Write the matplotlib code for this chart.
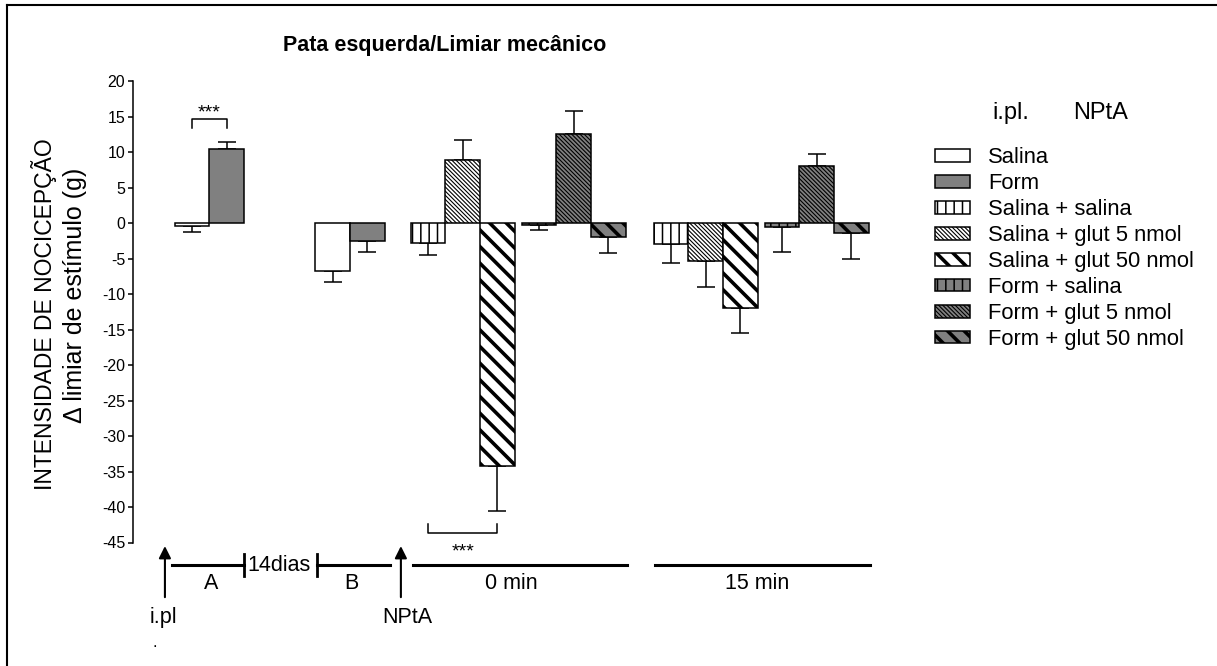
import matplotlib.pyplot as plt
from matplotlib.patches import Rectangle
from matplotlib.lines import Line2D

plt.rcParams['font.family'] = ['Liberation Sans', 'DejaVu Sans']
plt.rcParams['axes.unicode_minus'] = False

# i.pl. only: day of injection (A) and 14 days later (B)
pre_stages = ['A', 'B']
salina_pre = [-0.4, -6.8]
salina_pre_err = [0.9, 1.5]
form_pre = [10.4, -2.6]
form_pre_err = [1.0, 1.5]

# after NPtA injection
times = ['0 min', '15 min']
sal_sal = [-2.8, -3.0]
sal_sal_err = [1.7, 2.6]
sal_g5 = [8.9, -5.4]
sal_g5_err = [2.8, 3.6]
sal_g50 = [-34.2, -12.0]
sal_g50_err = [6.3, 3.5]
form_sal = [-0.3, -0.5]
form_sal_err = [0.7, 3.6]
form_g5 = [12.5, 8.0]
form_g5_err = [3.3, 1.7]
form_g50 = [-2.0, -1.4]
form_g50_err = [2.2, 3.7]

labels = ['Salina', 'Form', 'Salina + salina', 'Salina + glut 5 nmol',
          'Salina + glut 50 nmol', 'Form + salina', 'Form + glut 5 nmol',
          'Form + glut 50 nmol']

W, H = 1217, 666
GREY = '#808080'
# facecolor, hatch, hatch linewidth
styles = {
    'Salina': ('white', None, 1.0),
    'Form': (GREY, None, 1.0),
    'Salina + salina': ('white', '||', 1.1),
    'Salina + glut 5 nmol': ('white', '\\' * 8, 0.8),
    'Salina + glut 50 nmol': ('white', '\\\\', 2.6),
    'Form + salina': (GREY, '||', 1.1),
    'Form + glut 5 nmol': (GREY, '\\' * 8, 0.8),
    'Form + glut 50 nmol': (GREY, '\\\\', 2.6),
}

fig = plt.figure(figsize=(W / 100, H / 100), dpi=100)
ax = fig.add_axes([133 / W, 1 - 542.5 / H, 747 / W, 461.5 / H])
ax.set_ylim(-45, 20)
ax.set_xlim(0, 747 / 34.7)


def style_patch(p, style):
    face, hatch, hlw = style
    if hatch and hasattr(p, 'set_hatch_linewidth'):
        p.set_hatch_linewidth(hlw)


def draw_bars(x, vals, errs, label):
    face, hatch, hlw = styles[label]
    bars = ax.bar(x, vals, width=1.0, color=face, edgecolor='black',
                  linewidth=1.1, hatch=hatch, zorder=3)
    for b in bars:
        style_patch(b, styles[label])
    lower = [e if v < 0 else 0 for v, e in zip(vals, errs)]
    upper = [e if v >= 0 else 0 for v, e in zip(vals, errs)]
    ax.errorbar(x, vals, yerr=[lower, upper], fmt='none', ecolor='black',
                elinewidth=1.1, capsize=6.8, capthick=1.1, zorder=2)


pre_starts = [1.2, 5.25]
draw_bars([s + 0.5 for s in pre_starts], salina_pre, salina_pre_err, 'Salina')
draw_bars([s + 1.5 for s in pre_starts], form_pre, form_pre_err, 'Form')

npta_starts = [8.0, 15.0]
form_offset = 3.2
series = [(sal_sal, sal_sal_err, 'Salina + salina', 0.5),
          (sal_g5, sal_g5_err, 'Salina + glut 5 nmol', 1.5),
          (sal_g50, sal_g50_err, 'Salina + glut 50 nmol', 2.5),
          (form_sal, form_sal_err, 'Form + salina', form_offset + 0.5),
          (form_g5, form_g5_err, 'Form + glut 5 nmol', form_offset + 1.5),
          (form_g50, form_g50_err, 'Form + glut 50 nmol', form_offset + 2.5)]
for vals, errs, lab, off in series:
    draw_bars([s + off for s in npta_starts], vals, errs, lab)

# axes styling
for side in ['top', 'right', 'bottom']:
    ax.spines[side].set_visible(False)
ax.spines['left'].set_linewidth(1.1)
ax.set_yticks(range(-45, 21, 5))
ax.set_xticks([])
ax.tick_params(axis='y', length=3.6, width=1.1, labelsize=11.5, pad=2)

# significance brackets
ax.plot([1.7, 1.7, 2.7, 2.7], [13.4, 14.65, 14.65, 13.4], color='black', lw=1.1)
ax.text(2.2, 14.9, '***', ha='center', va='baseline', fontsize=14)
ax.plot([8.5, 8.5, 10.5, 10.5], [-42.4, -43.7, -43.7, -42.4], color='black',
        lw=1.1, clip_on=False)
ax.text(9.5, -47.0, '***', ha='center', va='baseline', fontsize=14)

# timeline below the axis
tl_y = -48.2
ax.plot([1.12, 3.2], [tl_y, tl_y], color='black', lw=2.2, clip_on=False)
ax.plot([3.2, 3.2], [-46.6, -49.7], color='black', lw=2.0, clip_on=False)
ax.plot([5.3, 7.41], [tl_y, tl_y], color='black', lw=2.2, clip_on=False)
ax.plot([5.3, 5.3], [-46.6, -49.7], color='black', lw=2.0, clip_on=False)
ax.plot([8.07, 14.24], [tl_y, tl_y], color='black', lw=2.2, clip_on=False)
ax.plot([15.04, 21.24], [tl_y, tl_y], color='black', lw=2.2, clip_on=False)
ax.text(4.21, tl_y, '14dias', ha='center', va='center', fontsize=15.5)
for x, s in zip([2.25, 6.28], pre_stages):
    ax.text(x, -50.8, s, ha='center', va='center', fontsize=15.5)
for x, s in zip([10.89, 17.98], times):
    ax.text(x, -50.8, s, ha='center', va='center', fontsize=15.5)

for x in [0.92, 7.72]:
    ax.annotate('', xy=(x, -45.5), xytext=(x, -52.7),
                arrowprops=dict(arrowstyle='-|>', color='black', lw=1.5,
                                mutation_scale=18, shrinkA=0, shrinkB=0),
                annotation_clip=False)
ax.text(0.89, -55.5, 'i.pl', ha='center', va='center', fontsize=15.5)
ax.text(7.9, -55.5, 'NPtA', ha='center', va='center', fontsize=15.5)
ax.text(0.63, -59.7, '.', ha='center', va='baseline', fontsize=12)

# title and y labels
fig.text(283 / W, 1 - 45 / H, 'Pata esquerda/Limiar mecânico', fontsize=15.5,
         fontweight='bold', ha='left', va='center')
fig.text(44 / W, 1 - 314 / H, 'INTENSIDADE DE NOCICEPÇÃO', rotation=90,
         ha='center', va='center', fontsize=16.5)
fig.text(75 / W, 1 - 295 / H, 'Δ limiar de estímulo (g)', rotation=90,
         ha='center', va='center', fontsize=18)

# legend
fig.text(992 / W, 1 - 113 / H, 'i.pl.', ha='left', va='center', fontsize=17)
fig.text(1073 / W, 1 - 113 / H, 'NPtA', ha='left', va='center', fontsize=17)
for i, lab in enumerate(labels):
    yc = 155 + 26.0 * i
    face, hatch, hlw = styles[lab]
    r = Rectangle((935 / W, 1 - (yc + 6.5) / H), 35 / W, 13 / H,
                  transform=fig.transFigure, facecolor=face, edgecolor='black',
                  linewidth=1.1, hatch=hatch)
    style_patch(r, styles[lab])
    fig.add_artist(r)
    fig.text(988 / W, 1 - (yc + 7.9) / H, lab, ha='left', va='baseline',
             fontsize=15.8)

# frame
fig.add_artist(Line2D([7 / W, 1], [1 - 5 / H] * 2, transform=fig.transFigure,
                      color='black', lw=1.5))
fig.add_artist(Line2D([7 / W] * 2, [0, 1 - 5 / H], transform=fig.transFigure,
                      color='black', lw=1.5))

fig.savefig('out.png', dpi=100)
